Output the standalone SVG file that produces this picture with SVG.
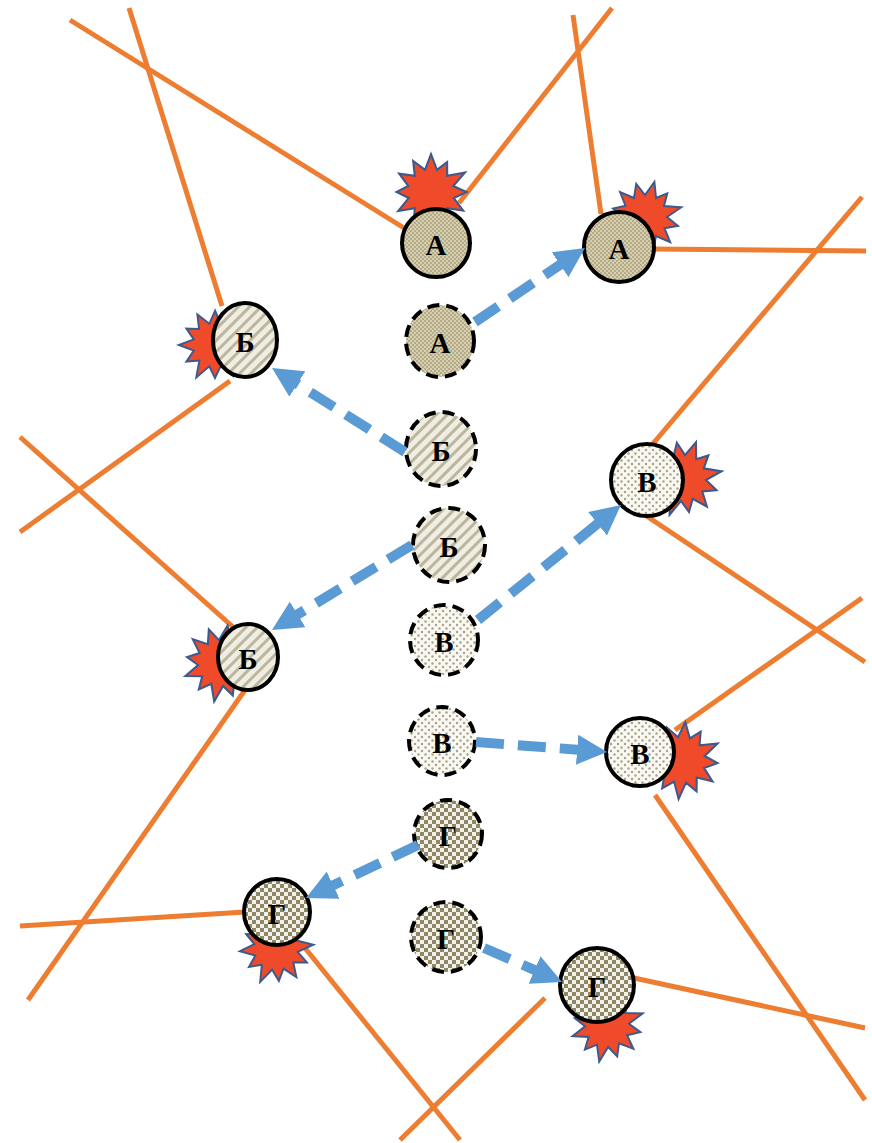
<svg xmlns="http://www.w3.org/2000/svg" xmlns:xlink="http://www.w3.org/1999/xlink" width="872" height="1143" viewBox="0 0 872 1143">
<style>
.road{stroke:#ED7D31;stroke-width:5;fill:none;stroke-linecap:butt}
.star{fill:#EF4B2B;stroke:#3D5A8C;stroke-width:1.8;stroke-linejoin:miter}
.solid{stroke:#000;stroke-width:4}
.dash{stroke:#000;stroke-width:4;stroke-dasharray:12 7}
.lbl{font-family:"Liberation Serif","DejaVu Serif",serif;font-weight:bold;font-size:29px;fill:#000;text-anchor:middle;dominant-baseline:central}
.arrow{stroke:#5B9BD5;stroke-width:10;fill:none;stroke-dasharray:28 14;marker-end:url(#ah)}
</style>
<defs>
<pattern id="pA" width="4" height="4" patternUnits="userSpaceOnUse">
<rect width="4" height="4" fill="#D7CFAE"/>
<rect width="2" height="2" fill="#B4AB8A"/>
<rect x="2" y="2" width="2" height="2" fill="#B4AB8A"/>
</pattern>
<pattern id="pB" width="8" height="8" patternUnits="userSpaceOnUse" patternTransform="rotate(45)">
<rect width="8" height="8" fill="#F0EDE3"/>
<rect width="3" height="8" fill="#BDB69E"/>
</pattern>
<pattern id="pC" width="7" height="7" patternUnits="userSpaceOnUse">
<rect width="7" height="7" fill="#FAF8F2"/>
<circle cx="2" cy="2" r="1.2" fill="#A9A28A"/>
<circle cx="5.5" cy="5.5" r="1.2" fill="#A9A28A"/>
</pattern>
<pattern id="pD" width="8" height="8" patternUnits="userSpaceOnUse">
<rect width="8" height="8" fill="#8E8866"/>
<rect width="4" height="4" fill="#F4F2EA"/>
<rect x="4" y="4" width="4" height="4" fill="#F4F2EA"/>
</pattern>
<polygon id="burst" points="0,-33 5.2,-19.3 14,-26 14.1,-14.1 29.5,-17 19.3,-5.2 31,0 19.8,5.3 28,16.2 14.1,14.1 15,26 5.2,19.3 0,34 -5.2,19.3 -15,26 -14.1,14.1 -28.5,16.5 -19.3,5.2 -30,0 -19.8,-5.3 -27.7,-16 -14.1,-14.1 -15.5,-27 -5.2,-19.3"/>
<marker id="ah" viewBox="0 -15 30 30" refX="4" refY="0" markerWidth="30" markerHeight="30" markerUnits="userSpaceOnUse" orient="auto">
<path d="M0,-15 L30,0 L0,15 z" fill="#5B9BD5"/>
</marker>
</defs>
<rect width="872" height="1143" fill="#fff"/>

<g id="roads">
<line class="road" x1="70" y1="20" x2="404" y2="228"/>
<line class="road" x1="129" y1="8" x2="222" y2="306"/>
<line class="road" x1="612" y1="8" x2="459" y2="203"/>
<line class="road" x1="573" y1="15" x2="601" y2="214"/>
<line class="road" x1="652" y1="249" x2="866" y2="251"/>
<line class="road" x1="862" y1="197" x2="651" y2="446"/>
<line class="road" x1="20" y1="532" x2="230" y2="381"/>
<line class="road" x1="20" y1="437" x2="233" y2="627"/>
<line class="road" x1="245" y1="690" x2="28" y2="1000"/>
<line class="road" x1="20" y1="926" x2="245" y2="912"/>
<line class="road" x1="305" y1="948" x2="460" y2="1140"/>
<line class="road" x1="545" y1="998" x2="400" y2="1140"/>
<line class="road" x1="634" y1="978" x2="865" y2="1028"/>
<line class="road" x1="655" y1="795" x2="865" y2="1100"/>
<line class="road" x1="675" y1="730" x2="862" y2="598"/>
<line class="road" x1="645" y1="515" x2="865" y2="662"/>
</g>

<g id="bursts">
<use href="#burst" class="star" transform="translate(431,192) scale(1.15)"/>
<use href="#burst" class="star" transform="translate(645,217) scale(1.1) rotate(15)"/>
<use href="#burst" class="star" transform="translate(215,345) scale(1.1) rotate(30)"/>
<use href="#burst" class="star" transform="translate(221,663) scale(1.15) rotate(10)"/>
<use href="#burst" class="star" transform="translate(683,478) scale(1.15) rotate(20)"/>
<use href="#burst" class="star" transform="translate(682,760) scale(1.15) rotate(5)"/>
<use href="#burst" class="star" transform="translate(276,948) scale(1.1) rotate(25)"/>
<use href="#burst" class="star" transform="translate(607,1025) scale(1.1) rotate(12)"/>
</g>

<g id="node-A1"><circle cx="436" cy="243" r="34" fill="url(#pA)" class="solid"/><text x="436" y="245" class="lbl">А</text></g>
<g id="node-A2"><ellipse cx="440" cy="341" rx="34" ry="36" fill="url(#pA)" class="dash"/><text x="440" y="343" class="lbl">А</text></g>
<g id="node-A3"><circle cx="619" cy="247" r="35" fill="url(#pA)" class="solid"/><text x="619" y="249" class="lbl">А</text></g>

<g id="node-B1"><ellipse cx="245" cy="340" rx="32" ry="37" fill="url(#pB)" class="solid"/><text x="245" y="342" class="lbl">Б</text></g>
<g id="node-B2"><ellipse cx="441" cy="449" rx="35" ry="37" fill="url(#pB)" class="dash"/><text x="441" y="451" class="lbl">Б</text></g>
<g id="node-B3"><ellipse cx="449" cy="545" rx="36" ry="37" fill="url(#pB)" class="dash"/><text x="449" y="547" class="lbl">Б</text></g>
<g id="node-B4"><ellipse cx="248" cy="657" rx="30" ry="33" fill="url(#pB)" class="solid"/><text x="248" y="659" class="lbl">Б</text></g>

<g id="node-V1"><circle cx="647" cy="480" r="36" fill="url(#pC)" class="solid"/><text x="647" y="482" class="lbl">В</text></g>
<g id="node-V2"><ellipse cx="444" cy="640" rx="34" ry="35" fill="url(#pC)" class="dash"/><text x="444" y="642" class="lbl">В</text></g>
<g id="node-V3"><ellipse cx="442" cy="741" rx="33" ry="34" fill="url(#pC)" class="dash"/><text x="442" y="743" class="lbl">В</text></g>
<g id="node-V4"><circle cx="640" cy="752" r="34" fill="url(#pC)" class="solid"/><text x="640" y="754" class="lbl">В</text></g>

<g id="node-G1"><circle cx="448" cy="834" r="34" fill="url(#pD)" class="dash"/><text x="448" y="836" class="lbl">Г</text></g>
<g id="node-G2"><circle cx="446" cy="937" r="35" fill="url(#pD)" class="dash"/><text x="446" y="939" class="lbl">Г</text></g>
<g id="node-G3"><circle cx="277" cy="912" r="33" fill="url(#pD)" class="solid"/><text x="277" y="914" class="lbl">Г</text></g>
<g id="node-G4"><circle cx="597" cy="985" r="37" fill="url(#pD)" class="solid"/><text x="597" y="987" class="lbl">Г</text></g>

<g id="connectors">
<path class="arrow" d="M475,322 L563.4,262.5"/>
<path class="arrow" d="M405,452 L294,381.9"/>
<path class="arrow" d="M412,545 L294.2,616.5"/>
<path class="arrow" d="M478,620 L600.7,521.3"/>
<path class="arrow" d="M476,742 L581.1,750"/>
<path class="arrow" d="M418,845 L329.5,886.9"/>
<path class="arrow" d="M484,948 L538.2,971.6"/>
</g>
</svg>
